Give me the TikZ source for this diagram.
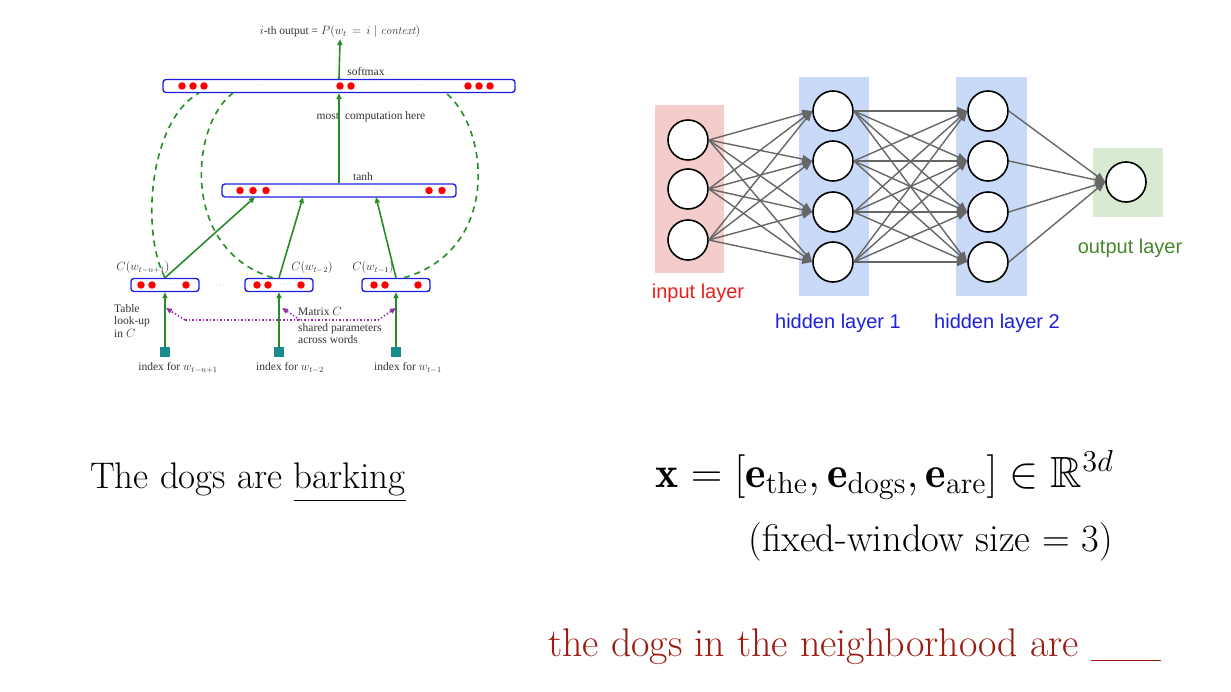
\documentclass[tikz,border=0pt]{standalone}
\usepackage{amsmath,amssymb}
\usepackage{graphicx}
\usepackage{fontspec}
\newfontfamily\figfont{Liberation Serif}
\newfontfamily\netfont{Liberation Sans}
\usepackage{tikz}
\usetikzlibrary{
	arrows.meta,
	calc,
	positioning,
}
\definecolor{nngreen}{RGB}{38,140,38}
\definecolor{nnblue}{RGB}{30,30,225}
\definecolor{nnteal}{RGB}{24,140,140}
\definecolor{nnpurple}{RGB}{150,40,170}
\definecolor{inred}{RGB}{232,32,28}
\definecolor{hidblue}{RGB}{30,30,225}
\definecolor{outgreen}{RGB}{70,135,45}
\definecolor{pinkbg}{RGB}{244,204,204}
\definecolor{bluebg}{RGB}{201,218,248}
\definecolor{greenbg}{RGB}{217,234,211}
\definecolor{darkred}{RGB}{155,27,16}
\tikzset{bar/.style={draw=nnblue,line width=1.4pt,rounded corners=3pt,minimum height=13pt,inner sep=0pt,}}
\tikzset{dot/.style={circle,fill=red,inner sep=0pt,minimum size=7.5pt,}}
\tikzset{ell/.style={inner sep=0pt,text=black!45,font=\footnotesize,}}
\tikzset{idx/.style={fill=nnteal,inner sep=0pt,minimum size=10pt,}}
\tikzset{lbl/.style={inner sep=1pt,font=\figfont\fontsize{11.5}{12.5}\selectfont,text=black!80,}}
\tikzset{garrow/.style={->,nngreen,line width=1.6pt,}}
\tikzset{gdash/.style={nngreen,line width=1.6pt,dash pattern=on 6pt off 5pt,}}
\tikzset{pdot/.style={nnpurple,line width=1.5pt,dotted,}}
\tikzset{neuron/.style={draw,circle,line width=1.6pt,fill=white,minimum size=40pt,inner sep=0pt,}}
\tikzset{edge/.style={-{Triangle[length=10pt,width=8pt]},black!60,line width=1.4pt,}}
\tikzset{rlbl/.style={inner sep=0pt,font=\netfont\fontsize{20}{24}\selectfont,}}
\tikzset{big/.style={inner sep=0pt,font=\fontsize{#1}{44}\selectfont,}}
\tikzset{
	>={Triangle[length=6pt,width=5pt]},
}

\begin{document}
\begin{tikzpicture}[x=1pt,y=-1pt]

\useasboundingbox (0,0) rectangle (1231,692);

% bengio model
\node[bar, minimum width=352pt] (soft) at (339,86) {};
\node[bar, minimum width=234pt] (tanh) at (339,190.5) {};
\foreach \n/\x in {1/165,2/279,3/396}{
	\node[bar, minimum width=68pt] (c\n) at (\x,285) {};
	\node[idx] (sq\n) at (\x,352) {};
}

\foreach \x in {182,193,204,340,351,468,479,490}
	\node[dot] (sd\x) at (\x,86) {};
\foreach \x in {240,253,266,429,442}
	\node[dot] (td\x) at (\x,190.5) {};
\foreach \x in {141,152,186,257,268,301,374,385,418}
	\node[dot] (cd\x) at (\x,285) {};
\foreach \x/\y in {258/86,418/86,308/190.5,380/190.5,170/285,285/285,402/285,221/286}
	\node[ell] (el\x) at (\x,\y) {$\cdots$};

\node[lbl] (title) at (340,32) {$i$-th output = $P(w_t \,=\, i \mid \mathit{context})$};
\node[lbl] (smx) at (366,72) {softmax};
\node[lbl] (most) at (371,117) {most\hspace{6pt}computation here};
\node[lbl] (tnh) at (363,177) {tanh};
\node[lbl] (lc1) at (143,268) {$C(w_{t-n+1})$};
\node[lbl] (lc2) at (312,268) {$C(w_{t-2})$};
\node[lbl] (lc3) at (373,268) {$C(w_{t-1})$};
\node[lbl, align=left, anchor=north west] (tbl) at (113,303) {Table\\look-up\\in $C$};
\node[lbl, anchor=west] (mat) at (297,311) {Matrix $C$};
\node[lbl, align=left, anchor=north west] (shr) at (297,322) {shared parameters\\across words};
\node[lbl] (ix1) at (178,368) {index for $w_{t-n+1}$};
\node[lbl] (ix2) at (290,368) {index for $w_{t-2}$};
\node[lbl] (ix3) at (408,368) {index for $w_{t-1}$};

\coordinate (t1) at (255,197);
\coordinate (t2) at (303,197);
\coordinate (t3) at (376,197);
\coordinate (s1) at (199,93);
\coordinate (s2) at (233,93);
\coordinate (s3) at (446,93);

\draw[garrow] (soft.north) -- (title.south);
\draw[garrow] (tanh.north) -- (soft.south);
\foreach \n in {1,2,3}{
	\draw[garrow] (c\n.north) -- (t\n);
	\draw[garrow] (sq\n.north) -- (c\n.south);
}

\draw[gdash] (c1.north) .. controls (140,230) and (150,120) .. (s1);
\draw[gdash] ($(c2.north)+(-6,0)$) .. controls (180,250) and (190,125) .. (s2);
\draw[gdash] ($(c3.north)+(8,0)$) .. controls (500,250) and (490,130) .. (s3);

% shared matrix C
\coordinate (row) at (0,308);
\coordinate (p1) at (185,320);
\coordinate (p2) at (300,320);
\coordinate (p3) at (378,320);
\draw[pdot] (p1) -- (p3);
\draw[pdot,->] (p1) -- ($(c1.south |- row)+(1,0)$);
\draw[pdot,->] (p2) -- ($(c2.south |- row)+(3,0)$);
\draw[pdot,->] (p3) -- ($(c3.south |- row)+(0,0)$);

% feed forward net
\node[fill=pinkbg, minimum width=69pt, minimum height=168pt] (inbg) at (689.5,189) {};
\node[fill=bluebg, minimum width=70pt, minimum height=219pt] (h1bg) at (834,186.5) {};
\node[fill=bluebg, minimum width=71pt, minimum height=219pt] (h2bg) at (991.5,186.5) {};
\node[fill=greenbg, minimum width=70pt, minimum height=69pt] (outbg) at (1128,182.5) {};

\foreach \n/\y in {1/140,2/189,3/240}
	\node[neuron] (i\n) at (688,\y) {};
\foreach \n/\y in {1/111,2/161,3/212,4/262}{
	\node[neuron] (h\n) at (833,\y) {};
	\node[neuron] (g\n) at (988,\y) {};
}
\node[neuron] (o) at (1126,182) {};

\foreach \a in {1,2,3}
	\foreach \b in {1,...,4}
		\draw[edge] (i\a.east) -- (h\b.west);
\foreach \a in {1,...,4}
	\foreach \b in {1,...,4}
		\draw[edge] (h\a.east) -- (g\b.west);
\foreach \a in {1,...,4}
	\draw[edge] (g\a.east) -- (o.west);

\node[rlbl, text=inred] (inl) at (698,293) {input layer};
\node[rlbl, text=hidblue] (h1l) at (838,323) {hidden layer 1};
\node[rlbl, text=hidblue] (h2l) at (997,323) {hidden layer 2};
\node[rlbl, text=outgreen] (outl) at (1130,248) {output layer};

% example sentences
\node[big=37, anchor=base west] (ex) at (90,488) {The dogs are \underline{barking}};
\node[big=20.74, anchor=base east] (vec) at (1114,487) {\resizebox{458pt}{!}{$\mathbf{x} = [\mathbf{e}_{\text{the}}, \mathbf{e}_{\text{dogs}}, \mathbf{e}_{\text{are}}] \in \mathbb{R}^{3d}$}};
\node[big=38.5, anchor=base east] (win) at (1113,551) {(fixed-window size = 3)};
\node[big=40, anchor=base west, text=darkred] (q) at (548,656) {the dogs in the neighborhood are \rule[-5pt]{70pt}{1.5pt}};

\end{tikzpicture}
\end{document}
